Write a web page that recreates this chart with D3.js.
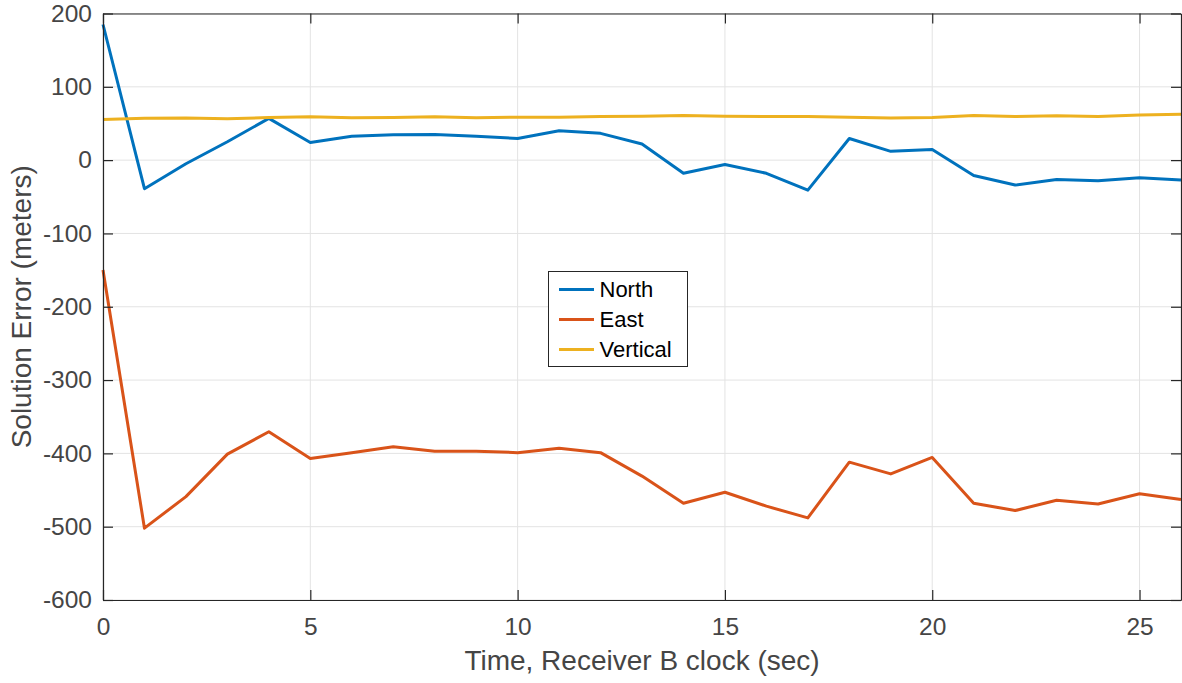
<!DOCTYPE html>
<html>
<head>
<meta charset="utf-8">
<script src="https://cdn.jsdelivr.net/npm/d3@7"></script>
<style>
  html, body { margin: 0; padding: 0; background: #fff; }
  svg { display: block; font-family: "Liberation Sans", Arial, Helvetica, sans-serif; }
</style>
</head>
<body>
<svg id="chart" width="1182" height="683"></svg>
<script>
// Time in seconds (receiver B clock)
const times = [0, 1, 2, 3, 4, 5, 6, 7, 8, 9, 10, 11, 12, 13, 14, 15, 16, 17, 18, 19, 20, 21, 22, 23, 24, 25, 26];

// Position solution error components (meters)
const north = [185, -39, -5, 25, 57, 24, 32.5, 34.5, 35, 32.5, 29.5, 40, 36.5, 22, -18, -6, -18, -41, 29.5, 12, 14.5, -21, -34, -26.5, -28, -24, -27];
const east = [-150, -502, -459, -401, -370.5, -407, -399, -391, -397, -397, -399, -393, -399, -431, -468, -453, -472, -488, -412, -428, -405.5, -468, -478, -464, -469, -455, -463];
const vertical = [55.5, 57, 57.5, 56.5, 58, 59, 57.7, 58, 59, 57.7, 58.5, 58.5, 59.5, 60, 61, 60, 59.5, 59.5, 58.6, 57.5, 58, 61, 59.5, 60.5, 59.5, 61.5, 62.7];

const seriesNames = ["North", "East", "Vertical"];
const seriesColors = ["#0072BD", "#D95319", "#EDB120"];

const xTicks = [0, 5, 10, 15, 20, 25];
const yTicks = [-600, -500, -400, -300, -200, -100, 0, 100, 200];
const xDomain = [0, 26];
const yDomain = [-600, 200];

const xLabel = "Time, Receiver B clock (sec)";
const yLabel = "Solution Error (meters)";

const svg = d3.select("#chart");
const margin = { left: 103, right: 1, top: 13.5, bottom: 83 };
const W = 1182, H = 683;
const plotW = W - margin.left - margin.right;
const plotH = H - margin.top - margin.bottom;

const x = d3.scaleLinear().domain(xDomain).range([margin.left, margin.left + plotW]);
const y = d3.scaleLinear().domain(yDomain).range([margin.top + plotH, margin.top]);

const axisColor = "#262626";
const tickText = "#454545";
const tickLen = 10;
const plainNum = d => String(d); // ASCII hyphen for negatives

// grid
const grid = svg.append("g");
grid.selectAll("line.gx").data(xTicks).join("line")
  .attr("x1", d => x(d)).attr("x2", d => x(d))
  .attr("y1", margin.top).attr("y2", margin.top + plotH)
  .attr("stroke", "#e3e3e3").attr("stroke-width", 1);
grid.selectAll("line.gy").data(yTicks).join("line")
  .attr("x1", margin.left).attr("x2", margin.left + plotW)
  .attr("y1", d => y(d)).attr("y2", d => y(d))
  .attr("stroke", "#e3e3e3").attr("stroke-width", 1);

// series lines
const allSeries = [north, east, vertical];
const line = d3.line().x((d, i) => x(times[i])).y(d => y(d));
svg.append("g").selectAll("path").data(allSeries).join("path")
  .attr("d", d => line(d))
  .attr("fill", "none")
  .attr("stroke", (d, i) => seriesColors[i])
  .attr("stroke-width", 3)
  .attr("stroke-linejoin", "round");

// axes (box with inward ticks on all sides)
const fontTick = 24.5;
const bottomAxis = d3.axisBottom(x).tickValues(xTicks).tickFormat(plainNum)
  .tickSizeInner(-tickLen).tickSizeOuter(0).tickPadding(18);
const topAxis = d3.axisTop(x).tickValues(xTicks).tickSizeInner(-tickLen).tickSizeOuter(0).tickFormat("");
const leftAxis = d3.axisLeft(y).tickValues(yTicks).tickFormat(plainNum)
  .tickSizeInner(-tickLen).tickSizeOuter(0).tickPadding(11);
const rightAxis = d3.axisRight(y).tickValues(yTicks).tickSizeInner(-tickLen).tickSizeOuter(0).tickFormat("");

function styleAxis(g) {
  g.selectAll("path.domain").attr("stroke", axisColor).attr("stroke-width", 1.2);
  g.selectAll(".tick line").attr("stroke", axisColor).attr("stroke-width", 1.2);
  g.selectAll(".tick text").attr("fill", tickText).attr("font-size", fontTick)
    .attr("font-family", "Liberation Sans, Arial, sans-serif");
}

svg.append("g").attr("transform", `translate(0,${margin.top + plotH})`).call(bottomAxis).call(styleAxis);
svg.append("g").attr("transform", `translate(0,${margin.top})`).call(topAxis).call(styleAxis);
svg.append("g").attr("transform", `translate(${margin.left},0)`).call(leftAxis).call(styleAxis);
svg.append("g").attr("transform", `translate(${margin.left + plotW},0)`).call(rightAxis).call(styleAxis);

// axis labels
svg.append("text")
  .attr("x", margin.left + plotW / 2).attr("y", 670)
  .attr("text-anchor", "middle").attr("font-size", 28).attr("fill", tickText)
  .text(xLabel);
svg.append("text")
  .attr("transform", `translate(31,${margin.top + plotH / 2}) rotate(-90)`)
  .attr("text-anchor", "middle").attr("font-size", 28).attr("fill", tickText)
  .text(yLabel);

// legend
const lg = svg.append("g").attr("transform", "translate(548.5,271.5)");
lg.append("rect").attr("width", 139).attr("height", 95)
  .attr("fill", "#fff").attr("stroke", "#262626").attr("stroke-width", 1);
const rows = lg.selectAll("g.row").data(seriesNames).join("g")
  .attr("transform", (d, i) => `translate(0,${18 + i * 30})`);
rows.append("line").attr("x1", 10.5).attr("x2", 45.5).attr("y1", 0).attr("y2", 0)
  .attr("stroke", (d, i) => seriesColors[i]).attr("stroke-width", 3);
rows.append("text").attr("x", 51).attr("y", 0).attr("dy", "0.35em")
  .attr("font-size", 22).attr("fill", "#000").text(d => d);
</script>
</body>
</html>
